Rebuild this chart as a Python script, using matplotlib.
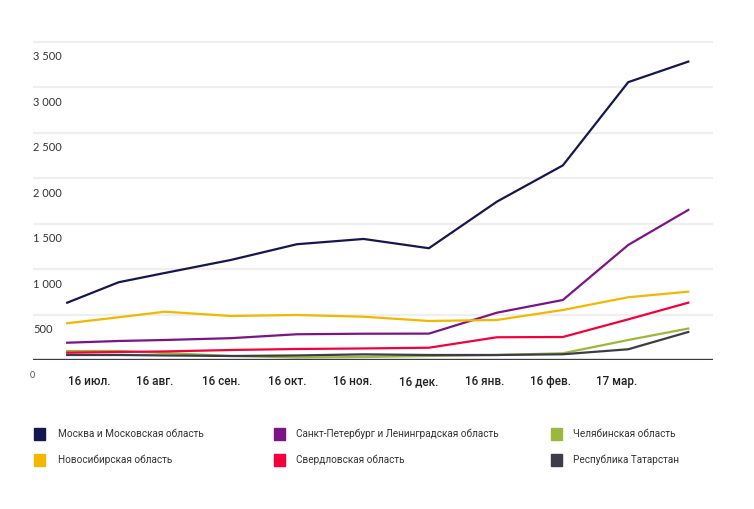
import matplotlib
matplotlib.use("Agg")
import matplotlib.pyplot as plt
import matplotlib.transforms as mtransforms
from matplotlib.font_manager import FontProperties
from matplotlib.patches import Rectangle

# позиции точек по оси X (в месяцах от 16 июл.)
x_points = [-0.33, 0.45, 1.15, 2.15, 3.15, 4.16, 5.15, 6.18, 7.18, 8.17, 9.08]
x_ticks = [0, 1, 2, 3, 4, 5, 6, 7, 8]
x_labels = ["16 июл.", "16 авг.", "16 сен.", "16 окт.", "16 ноя.",
            "16 дек.", "16 янв.", "16 фев.", "17 мар."]

y_ticks = [500, 1000, 1500, 2000, 2500, 3000, 3500]
y_labels = ["500", "1 000", "1 500", "2 000", "2 500", "3 000", "3 500"]

moscow = [630, 855, 957, 1100, 1273, 1331, 1229, 1741, 2140, 3055, 3281]
spb = [190, 209, 220, 240, 283, 289, 290, 520, 660, 1265, 1650]
chelyabinsk = [99, 99, 77, 44, 28, 33, 44, 55, 74, 220, 346]
novosibirsk = [404, 470, 531, 484, 495, 476, 429, 440, 550, 690, 751]
sverdlovsk = [80, 88, 94, 110, 121, 127, 135, 250, 253, 447, 630]
tatarstan = [55, 55, 50, 44, 50, 62, 55, 55, 63, 118, 308]

series = [
    ("Москва и Московская область", moscow, "#15174f"),
    ("Санкт-Петербург и Ленинградская область", spb, "#7b1585"),
    ("Челябинская область", chelyabinsk, "#9cb83c"),
    ("Новосибирская область", novosibirsk, "#f3b700"),
    ("Свердловская область", sverdlovsk, "#f3003d"),
    ("Республика Татарстан", tatarstan, "#3d3c4b"),
]

W, H = 754, 509
fig = plt.figure(figsize=(W / 100, H / 100), dpi=100)
ax = fig.add_axes([33 / W, 1 - 360 / H, 680 / W, 327.4 / H])

# сетка
for v in y_ticks:
    ax.axhline(v, color="#efefef", lw=1.6, zorder=0)

for name, vals, col in series:
    ax.plot(x_points, vals, color=col, lw=1.6, solid_joinstyle="miter", zorder=3)

ax.axhline(0, color="#3b3b47", lw=2.4, zorder=4)

ax.set_xlim(-0.848, 9.4545)
ax.set_ylim(0, 3600)
for s in ax.spines.values():
    s.set_visible(False)
ax.set_yticks([])
ax.set_xticks([])

# подписи оси X по базовой линии (поправка на глубокий спуск «д»)
fp = FontProperties(family="Roboto", weight="medium", size=8.5)
renderer = fig.canvas.get_renderer()
_, lp_h, lp_d = renderer.get_text_width_height_descent("lp", fp, ismath=False)
base = mtransforms.blended_transform_factory(ax.transData, ax.transAxes)
for xv, lab in zip(x_ticks, x_labels):
    _, h, d = renderer.get_text_width_height_descent(lab, fp, ismath=False)
    shift = max(d - lp_d, 0)
    tr = mtransforms.offset_copy(base, fig=fig, y=-25 + shift, units="dots")
    ax.text(xv, 0, lab, transform=tr, ha="center", va="baseline",
            fontproperties=fp, color="#222222")

# подписи оси Y под линиями сетки
trans = mtransforms.blended_transform_factory(ax.transAxes, ax.transData)
trans = mtransforms.offset_copy(trans, fig=fig, y=-11, units="points")
for v, lab in zip(y_ticks, y_labels):
    ax.text(0, v, lab, transform=trans, ha="left", va="center",
            fontsize=8, color="#333333", fontfamily="Lato")
ax.text(-0.005, 0, "0", transform=trans, ha="left", va="center",
        fontsize=6.5, color="#555555", fontfamily="Lato")

# легенда
leg_cols = [(34, 58), (274, 296), (551, 573)]
leg_rows = [434, 460]
for i, (name, vals, col) in enumerate(series):
    r, c = divmod(i, 3)
    sx, tx = leg_cols[c]
    y = leg_rows[r]
    fig.patches.append(Rectangle((sx / W, 1 - (y + 6) / H), 11 / W, 12 / H,
                                 transform=fig.transFigure, color=col))
    fig.text(tx / W, 1 - y / H, name, ha="left", va="center",
             fontsize=7.2, color="#333333", fontfamily="Roboto")

fig.savefig("out.png", dpi=100, facecolor="white")
